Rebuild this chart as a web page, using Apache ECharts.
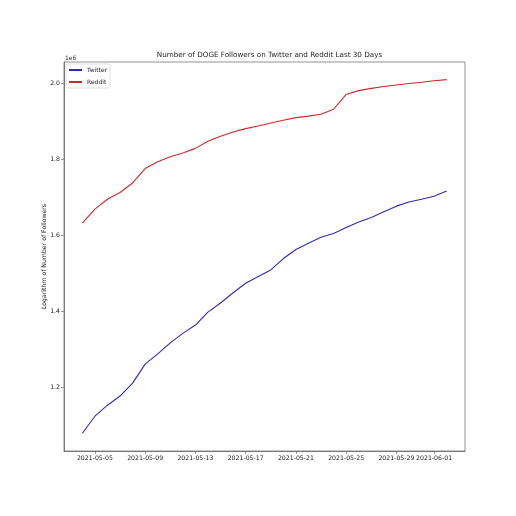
<!DOCTYPE html>
<html>
<head>
<meta charset="utf-8">
<script src="https://cdn.jsdelivr.net/npm/echarts@6/dist/echarts.min.js"></script>
<style>html,body{margin:0;padding:0;background:#fff}#c{width:516px;height:516px}</style>
</head>
<body>
<div id="c"></div>
<script>
const dates = ['2021-05-04','2021-05-05','2021-05-06','2021-05-07','2021-05-08','2021-05-09','2021-05-10','2021-05-11','2021-05-12','2021-05-13',
  '2021-05-14','2021-05-15','2021-05-16','2021-05-17','2021-05-18','2021-05-19','2021-05-20','2021-05-21','2021-05-22','2021-05-23',
  '2021-05-24','2021-05-25','2021-05-26','2021-05-27','2021-05-28','2021-05-29','2021-05-30','2021-05-31','2021-06-01','2021-06-02'];
const twitter = [1.079,1.124,1.153,1.177,1.211,1.261,1.288,1.317,1.342,1.364,
  1.398,1.422,1.449,1.474,1.492,1.509,1.539,1.563,1.579,1.595,
  1.605,1.621,1.635,1.647,1.662,1.677,1.688,1.695,1.703,1.717];
const reddit = [1.632,1.669,1.695,1.713,1.738,1.776,1.794,1.807,1.817,1.829,
  1.848,1.861,1.872,1.881,1.888,1.896,1.903,1.910,1.914,1.919,
  1.932,1.971,1.981,1.987,1.992,1.996,2.000,2.003,2.007,2.010];
const xTickLabels = ['2021-05-05','2021-05-09','2021-05-13','2021-05-17','2021-05-21','2021-05-25','2021-05-29','2021-06-01'];
const yTickValues = [1.2,1.4,1.6,1.8,2.0];

// x positions are day offsets from the first date
const xTicks = xTickLabels.map(s => dates.indexOf(s));
const font = 'DejaVu Sans';

const chart = echarts.init(document.getElementById('c'), null, {renderer:'canvas'});
chart.setOption({
  animation: false,
  backgroundColor: '#fff',
  textStyle: {fontFamily: font},
  title: [
    {text: 'Number of DOGE Followers on Twitter and Reddit Last 30 Days', left: 264.5, textAlign: 'center', top: 47,
     textStyle: {fontSize: 7.2, fontWeight: 'normal', color: '#222', fontFamily: font}},
    {text: '1e6', left: 60, top: 50, textStyle: {fontSize: 6, fontWeight: 'normal', color: '#333', fontFamily: font}}
  ],
  legend: {
    left: 66, top: 64, orient: 'vertical', itemWidth: 13, itemHeight: 2, itemGap: 6,
    icon: 'rect', padding: [3, 3, 3, 3], borderColor: '#d8d8d8', borderWidth: 0.8, borderRadius: 2,
    backgroundColor: '#fff',
    textStyle: {fontSize: 6, color: '#222', fontFamily: font}
  },
  grid: {left: 64, right: 51, top: 62, bottom: 65, containLabel: false},
  xAxis: {
    type: 'value',
    min: -1.46,
    max: dates.length - 1 + 1.46,
    splitLine: {show: false},
    axisLine: {show: true, onZero: false, lineStyle: {color: '#555', width: 0.8}},
    axisTick: {show: true, length: 3, customValues: xTicks, lineStyle: {color: '#555', width: 0.6}},
    axisLabel: {customValues: xTicks, fontSize: 6.2, color: '#222', margin: 4, fontFamily: font,
      formatter: function(v){ return dates[Math.round(v)] || ''; }}
  },
  yAxis: {
    type: 'value', min: 1.0324, max: 2.0564,
    name: 'Logarithm of Number of Followers', nameLocation: 'middle', nameGap: 17, nameRotate: 90,
    nameMoveOverlap: false,
    nameTextStyle: {fontSize: 6.2, color: '#222', fontFamily: font},
    splitLine: {show: false},
    axisLine: {show: true, onZero: false, lineStyle: {color: '#555', width: 0.8}},
    axisTick: {show: true, length: 3, customValues: yTickValues, lineStyle: {color: '#555', width: 0.6}},
    axisLabel: {customValues: yTickValues, fontSize: 6.2, color: '#222', margin: 4, fontFamily: font,
      formatter: function(v){ return v.toFixed(1); }}
  },
  graphic: [{type: 'rect', shape: {x: 64, y: 62, width: 401, height: 389}, style: {fill: 'none', stroke: '#777', lineWidth: 0.8}, silent: true, z: 10}],
  series: [
    {name: 'Twitter', type: 'line', data: dates.map((d,i)=>[i, twitter[i]]), showSymbol: false, color: '#2c2cb8',
     lineStyle: {width: 1.1, color: '#2c2cb8'}},
    {name: 'Reddit', type: 'line', data: dates.map((d,i)=>[i, reddit[i]]), showSymbol: false, color: '#cc2a2a',
     lineStyle: {width: 1.1, color: '#cc2a2a'}}
  ]
});
</script>
</body>
</html>
